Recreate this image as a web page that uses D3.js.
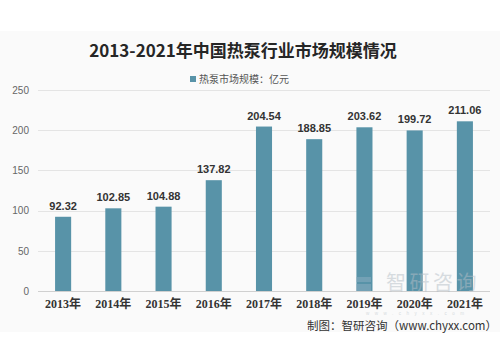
<!DOCTYPE html>
<html>
<head>
<meta charset="utf-8">
<script src="https://cdn.jsdelivr.net/npm/d3@7"></script>
<style>
  html, body { margin: 0; padding: 0; background: #fff; }
  svg { display: block; }
</style>
</head>
<body>
<svg id="chart" width="500" height="350"></svg>
<script>
// Heat pump market size in China, 2013–2021 (unit: 100 million yuan)
const years = ["2013年", "2014年", "2015年", "2016年", "2017年", "2018年", "2019年", "2020年", "2021年"];
const marketSize = [92.32, 102.85, 104.88, 137.82, 204.54, 188.85, 203.62, 199.72, 211.06];
const yTicks = [0, 50, 100, 150, 200, 250];
const titleText = "2013-2021年中国热泵行业市场规模情况";
const legendText = "热泵市场规模：亿元";
const sourceText = "制图：智研咨询（www.chyxx.com）";

const svg = d3.select("#chart");
const W = 500;
const barColor = "#5893a8";
const cjk = "'Noto Sans CJK SC', 'Noto Sans', sans-serif";
const serifCjk = "'Liberation Serif', 'Noto Sans CJK SC', serif";

// panel background
svg.append("rect").attr("x", 0).attr("y", 31).attr("width", W).attr("height", 301).attr("fill", "#fafafa");

const x = d3.scaleBand().domain(years).range([38, 490]).paddingInner(0.68).paddingOuter(0.34);
const y = d3.scaleLinear().domain([0, 250]).range([291, 90]);

// title
svg.append("text").attr("x", 243).attr("y", 57).attr("text-anchor", "middle")
  .attr("font-family", cjk).attr("font-weight", "bold").attr("font-size", 17).attr("fill", "#262626")
  .text(titleText);

// legend
svg.append("rect").attr("x", 190).attr("y", 76).attr("width", 6).attr("height", 6).attr("fill", barColor);
svg.append("text").attr("x", 199).attr("y", 83).attr("font-family", cjk).attr("font-size", 10).attr("fill", "#555")
  .text(legendText);

// gridlines
svg.append("g").selectAll("line").data(yTicks).join("line")
  .attr("x1", 38).attr("x2", 490)
  .attr("y1", d => Math.round(y(d)) + 0.5).attr("y2", d => Math.round(y(d)) + 0.5)
  .attr("stroke", d => d === 0 ? "#d0d0d0" : "#e4e4e4").attr("stroke-width", 1);

// y axis
const yAxis = svg.append("g").attr("transform", "translate(38,0)")
  .call(d3.axisLeft(y).tickValues(yTicks).tickSize(0).tickPadding(9));
yAxis.select(".domain").remove();
yAxis.selectAll("text").attr("font-family", "'Liberation Sans', Arial, sans-serif").attr("font-size", 10).attr("fill", "#666");

// bars
svg.append("g").selectAll("rect").data(marketSize).join("rect")
  .attr("x", (d, i) => x(years[i])).attr("width", x.bandwidth())
  .attr("y", d => y(d)).attr("height", d => y(0) - y(d))
  .attr("fill", barColor);

// value labels
svg.append("g").selectAll("text").data(marketSize).join("text")
  .attr("x", (d, i) => x(years[i]) + x.bandwidth() / 2).attr("y", d => y(d) - 7)
  .attr("text-anchor", "middle").attr("font-family", "'Liberation Sans', Arial, sans-serif")
  .attr("font-size", 11).attr("font-weight", "bold").attr("fill", "#333")
  .text(d => d.toFixed(2));

// brand watermark, semi-transparent over the bars
const wm = svg.append("g").attr("opacity", 0.5);
wm.append("rect").attr("x", 356).attr("y", 277).attr("width", 15).attr("height", 5).attr("fill", "#8fb0c2");
wm.append("rect").attr("x", 356).attr("y", 284).attr("width", 15).attr("height", 7).attr("fill", "#8fb0c2");
wm.append("text").attr("x", 386).attr("y", 290).attr("font-family", cjk).attr("font-size", 20)
  .attr("fill", "#b4bec6").attr("letter-spacing", 3.5).text("智研咨询");
wm.append("text").attr("x", 366).attr("y", 314.6).attr("font-family", "'Liberation Sans', sans-serif").attr("font-size", 4.5)
  .attr("fill", "#b4bec6").attr("letter-spacing", 5.5).text("www.chyxx.com");

// x axis labels
const xAxis = svg.append("g").attr("transform", "translate(0,291)")
  .call(d3.axisBottom(x).tickSize(0).tickPadding(8));
xAxis.select(".domain").remove();
xAxis.selectAll("text").attr("font-family", serifCjk).attr("font-size", 12).attr("font-weight", "bold").attr("fill", "#333");

// source
svg.append("text").attr("x", 497).attr("y", 330).attr("text-anchor", "end")
  .attr("font-family", cjk).attr("font-size", 11.5).attr("fill", "#333").text(sourceText);
</script>
</body>
</html>
